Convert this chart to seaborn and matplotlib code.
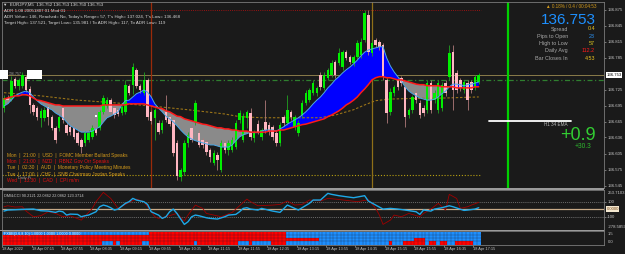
import numpy as np
import pandas as pd
import matplotlib
matplotlib.use("Agg")
import matplotlib.pyplot as plt
from matplotlib.patches import Rectangle
from matplotlib.colors import ListedColormap
import matplotlib.transforms as mtrans
import seaborn as sns

sns.set_style("dark")
plt.rcParams['font.family'] = ['Liberation Sans', 'DejaVu Sans']

# ---------------- DATA (prices as points: price = 136.500 + pts/1000) ----------------
BASE = 136.5
open_pts = [191,210,208,246,233,233,250,227,197,191,
            173,173,193,175,154,154,191,160,156,154,
            145,131,126,131,137,152,154,184,195,206,
            191,188,182,184,233,235,263,233,220,244,
            184,173,163,150,184,175,169,126,62,71,
            126,154,165,145,131,128,113,88,103,75,
            126,113,113,118,169,131,173,182,135,161,
            137,165,160,156,145,126,175,163,184,156,
            145,178,201,206,220,220,253,229,248,253,
            278,276,268,296,287,276,287,291,319,366,
            295,319,315,310,244,184,220,244,248,231,
            178,188,220,201,191,188,238,206,188,191,
            238,250,296,257,244,225,238,240,231,240]
high_pts = [216,216,251,250,248,259,253,233,201,195,
            191,193,201,178,158,178,195,165,160,158,
            148,135,148,150,160,158,188,216,212,210,
            195,191,197,244,236,276,266,236,259,248,
            188,191,169,169,216,178,173,131,79,131,
            146,160,206,150,135,131,116,113,109,131,
            131,131,137,169,188,182,188,191,150,169,
            154,206,165,160,150,165,178,216,188,178,
            169,206,225,229,244,233,259,259,266,281,
            281,304,300,300,291,291,319,323,375,375,
            319,323,319,313,248,229,235,248,251,235,
            191,216,225,206,197,244,244,225,244,240,
            244,310,310,263,248,244,244,244,253,257]
low_pts = [184,201,205,229,225,229,221,182,178,169,
           156,167,160,150,126,148,163,141,141,133,
           122,107,120,128,133,141,150,180,191,180,
           173,176,178,180,216,218,229,220,216,169,
           161,131,143,145,165,158,101,56,55,66,
           118,128,160,118,116,103,90,85,75,71,
           107,103,109,115,163,128,154,131,128,143,
           131,145,141,131,120,120,158,160,169,150,
           139,173,197,203,216,214,225,225,244,250,
           248,272,263,281,274,270,283,285,315,291,
           289,306,300,244,163,178,214,225,233,156,
           173,182,201,173,176,182,182,201,182,186,
           214,244,188,220,223,220,188,220,225,236]
close_pts = [210,206,242,233,244,253,225,197,184,175,
             186,188,175,154,131,175,169,145,146,137,
             126,118,145,145,154,145,184,210,206,184,
             178,180,193,235,220,268,233,225,244,175,
             167,188,146,163,169,161,107,64,75,126,
             141,131,201,122,122,109,100,107,94,126,
             113,126,131,163,182,176,184,137,145,146,
             150,150,146,137,126,160,163,188,175,175,
             163,201,220,225,238,229,231,253,263,276,
             253,295,296,285,278,287,313,315,370,296,
             313,310,306,250,182,221,231,231,238,175,
             188,212,206,178,182,238,188,220,238,235,
             220,295,225,225,229,240,206,225,250,253]
slow_ma_pts = [208,210,212,214,214,216,216,214,210,
               206,205,203,201,199,197,197,195,195,195,195,195,
               195,195,195,195,195,195,197,197,197,197,197,197,197,199,199,199,199,199,197,
               195,193,191,190,186,184,180,176,175,171,169,
               167,165,163,161,160,158,156,154,154,152,152,150,150,148,
               148,148,146,146,146,146,146,148,148,148,150,150,152,154,
               156,158,160,161,163,165,167,169,171,175,
               178,182,186,191,197,201,206,212,220,227,235,
               244,248,250,250,248,248,246,244,244,
               242,240,238,236,235,235,233,233,233,233,231,231,231,231,229,229,229,229,229,231,231]
fast_ma_pts = [195,199,206,214,218,221,223,220,212,
               205,199,195,191,188,182,178,173,165,158,154,150,
               146,146,146,148,152,156,165,173,176,180,184,197,205,206,212,218,221,225,221,
               212,199,191,184,176,171,165,158,150,143,137,
               133,130,128,126,124,122,122,120,118,118,118,122,130,137,
               141,143,146,145,145,148,150,150,150,148,152,156,161,165,
               169,173,178,184,191,199,206,212,220,229,
               236,244,250,257,263,268,274,281,289,296,300,
               302,304,306,306,285,270,259,250,242,
               231,223,218,214,210,208,206,206,208,212,218,223,231,236,236,235,233,235,236,238,240]
h1_ema_idx = [0,10,20,30,40,50,60,64,70,80,86,90,95,98,101,105,110,120,129]
h1_ema_pts = [220,214,206,201,195,188,180,175,173,173,173,178,188,197,205,208,209,210,212]
signal_idx = [25]
signal_pts = [176]

cci_blue_idx = [0,1,3,5,8,10,12,14,15,16,17,18,20,21,22,23,25,26,27,28,29,30,31,33,34,35,36,38,39,40,
                42,43,44,45,46,47,49,50,51,52,53,55,56,58,60,61,63,64,65,66,67,69,70,73,75,77,79,80,81,83,
                84,86,88,89,91,93,95,97,98,99,101,103,105,107,109,112,113,114,116,117,119,121,122,125,126,128,129]
cci_blue = [-27,-13,-9,-4,0,-22,-27,-44,-27,-36,-80,-67,-71,-102,-89,-80,-36,31,53,40,18,-13,0,76,98,142,120,98,62,-36,
            -80,-124,-102,-36,0,-58,-204,-169,-102,-80,-89,-116,-124,-133,-102,-80,-71,-36,9,18,0,-13,9,-27,-44,53,9,-13,18,76,
            120,120,209,196,178,164,151,169,178,107,53,0,9,0,-13,-36,-71,-13,-27,0,18,44,31,-18,-13,0,18]
cci_red_idx = [0,1,3,5,6,8,10,12,14,16,18,21,24,25,27,29,31,34,36,38,40,41,42,44,47,49,50,52,54,55,
               59,62,64,66,67,69,73,75,77,79,81,83,86,88,90,93,96,99,101,102,103,105,106,108,110,113,114,116,118,120,
               121,123,124,126,127,129]
cci_red = [31,44,27,31,-27,-102,-89,-36,-58,-102,-89,-147,9,98,222,142,9,89,133,98,-36,-102,-124,-102,-58,-160,-80,53,9,-58,
           -102,-44,44,133,98,44,53,62,107,53,62,120,107,142,133,116,98,124,9,-80,-204,-147,-80,-102,-58,-102,-58,0,76,-13,
           196,142,9,31,53,89]

trend_rows = [  # run-lengths per row, R = red, B = blue
    [('B', 40), ('R', 37), ('B', 53)],
    [('R', 77), ('B', 53)],
    [('R', 86), ('B', 26), ('R', 3), ('B', 15)],
    [('R', 27), ('B', 3), ('R', 1), ('B', 1), ('R', 6), ('B', 2), ('R', 12), ('B', 1), ('R', 11), ('B', 3),
     ('R', 1), ('B', 5), ('R', 4), ('B', 28), ('R', 1), ('B', 3), ('R', 6), ('B', 1), ('R', 2), ('B', 1),
     ('R', 2), ('B', 2), ('R', 5), ('B', 2)],
]

price_ticks = [136.875, 136.845, 136.815, 136.785, 136.725, 136.695, 136.665, 136.636, 136.605, 136.575, 136.545]
x_labels = ["18 Apr 2022", "18 Apr 07:15", "18 Apr 07:55", "18 Apr 08:35", "18 Apr 09:15", "18 Apr 09:55",
            "18 Apr 10:35", "18 Apr 11:15", "18 Apr 11:55", "18 Apr 12:35", "18 Apr 13:15", "18 Apr 13:55",
            "18 Apr 14:35", "18 Apr 15:15", "18 Apr 15:55", "18 Apr 16:35", "18 Apr 17:15"]
current_price = 136.753
red_level = 136.875
gold_level = 136.566
green_level = 136.744
h1_ema_level = 136.667
day_sep_1, day_sep_2, future_mark = 40, 100, 137

news = [("Mon  |  21:00  |  USD  |  FOMC Member Bullard Speaks", '#d49a1a'),
        ("Mon  |  21:00  |  NZD  |  RBNZ Gov Orr Speaks", '#e01010'),
        ("Tue  |  02:30  |  AUD  |  Monetary Policy Meeting Minutes", '#d49a1a'),
        ("Tue  |  17:00  |  CHF  |  SNB Chairman Jordan Speaks", '#d49a1a'),
        ("Wed  |  13:30  |  CAD  |  CPI m/m", '#e01010')]
info_labels = ["Spread", "Pips to Open", "High to Low", "Daily Avg", "Bar Closes In"]
info_values = ["0.4", "23", "57", "112.2", "4:53"]
info_colors = ['#e8c020', '#2a8ff0', '#d8c020', '#ff1a1a', '#e8c020']

# ---------------- DERIVED ARRAYS ----------------
def px(v):
    return BASE + np.asarray(v, dtype=float) / 1000.0

O, Hh, L, C = px(open_pts), px(high_pts), px(low_pts), px(close_pts)
slow, fast = px(slow_ma_pts), px(fast_ma_pts)
n = len(C)
assert len(O) == len(Hh) == len(L) == n == len(slow) == len(fast) == 130
x = np.arange(n)

# ---------------- FIGURE ----------------
W, H = 625, 254
BG = '#1a1a1a'
fig = plt.figure(figsize=(W / 100, H / 100), dpi=100, facecolor=BG)

def axpos(x0, y0, x1, y1):
    return [x0 / W, 1 - y1 / H, (x1 - x0) / W, (y1 - y0) / H]

def ftxt(xp, yp, s, **kw):
    kw.setdefault('va', 'center')
    return fig.text(xp / W, 1 - yp / H, s, **kw)

XLIM = ((2 - 4) / 3.68, (604 - 4) / 3.68)

ax = fig.add_axes(axpos(2, 2, 604, 188))
axc = fig.add_axes(axpos(2, 190, 604, 230))
axh = fig.add_axes(axpos(2, 230.5, 604, 244.5))
for a in (ax, axc, axh):
    a.set_facecolor(BG)
    for sp in a.spines.values():
        sp.set_color('#7a7a7a')
        sp.set_linewidth(0.6)
    a.grid(False)

# ---- main price panel ----
ax.set_xlim(*XLIM)
ax.set_ylim(BASE + 41.25 / 1000, BASE + 390 / 1000)

up = C >= O
ax.fill_between(x, fast, slow, where=fast >= slow, interpolate=True, color='#0000ff', lw=0, zorder=2)
ax.fill_between(x, fast, slow, where=fast <= slow, interpolate=True, color='#8a8a8a', lw=0, zorder=2)
ax.plot(h1_ema_idx, px(h1_ema_pts), color='#9a7418', lw=0.8, ls=(0, (2.2, 1.6)), zorder=2.5)

ax.axhline(current_price, color='#8a7c4a', lw=0.7, zorder=1.5)
ax.axhline(green_level, color='#2f7f2f', lw=0.9, ls=(0, (4, 2, 1, 2)), zorder=1.5)
ax.hlines(red_level, XLIM[0], n - 0.5, color='#c01010', lw=0.6, linestyles=(0, (1, 1.6)), zorder=1.5)
ax.hlines(gold_level, XLIM[0], n - 0.5, color='#b8a012', lw=0.8, linestyles=(0, (1, 1.6)), zorder=1.5)
ax.axvline(day_sep_1, color='#9a2a0a', lw=0.9, zorder=1.6)
ax.axvline(day_sep_2, color='#8f7018', lw=0.9, zorder=1.6)
ax.axvline(future_mark, color='#00d000', lw=1.6, zorder=1.6)
ax.axhline(h1_ema_level, xmin=(489 - 2) / 602, xmax=(571 - 2) / 602, color='white', lw=1.3, zorder=3)

ax.vlines(x[up], L[up], Hh[up], color='#22a322', lw=0.6, zorder=3)
ax.vlines(x[~up], L[~up], Hh[~up], color='#b07a7a', lw=0.6, zorder=3)
body = np.maximum(np.abs(C - O), 0.0005)
ax.bar(x, body, bottom=np.minimum(O, C), width=0.68,
       color=np.where(up, '#00f000', '#ffb6c1'), lw=0, zorder=4)

sns.lineplot(x=x, y=fast, ax=ax, color='#4aa8e8', lw=0.7, zorder=5)
sns.lineplot(x=x, y=slow, ax=ax, color='#ff1a1a', lw=1.1, zorder=5)
ax.scatter(signal_idx, px(signal_pts), marker='s', s=4, color='white', zorder=6, lw=0)

ax.set_xticks([])
ax.yaxis.tick_right()
ax.set_yticks(price_ticks)
ax.set_yticklabels([f"{p:.3f}" for p in price_ticks])
ax.tick_params(axis='y', right=True, left=False, labelsize=3.1, labelcolor='#c8c8c8',
               color='#9a9a9a', length=1.5, width=0.5, pad=0.8)
ax.set_xlabel(''); ax.set_ylabel('')
blend = mtrans.blended_transform_factory(ax.transAxes, ax.transData)
ax.text(1.004, current_price, f"{current_price:.3f}", transform=blend, ha='left', va='center',
        size=3.1, color='black', bbox=dict(fc='white', ec='none', pad=0.5), zorder=10)

# ---- CCI panel ----
axc.set_xlim(*XLIM)
axc.set_ylim(-278.5859, 253.7103)
axc.axhline(100, color='#8a8a8a', lw=0.5, ls=(0, (1.5, 1.5)))
axc.axhline(-100, color='#8a8a8a', lw=0.5, ls=(0, (1.5, 1.5)))
axc.axhline(0, color='#c8aa88', lw=0.9)
sns.lineplot(x=cci_red_idx, y=cci_red, ax=axc, color='#a00000', lw=0.6)
sns.lineplot(x=cci_blue_idx, y=cci_blue, ax=axc, color='#1ea8e8', lw=1.0)
axc.set_xticks([])
axc.yaxis.tick_right()
axc.set_yticks([100, -100])
axc.set_yticklabels(['100', '-100'])
axc.tick_params(axis='y', right=True, left=False, labelsize=3.1, labelcolor='#c8c8c8',
                color='#9a9a9a', length=1.5, width=0.5, pad=0.8)
axc.set_xlabel(''); axc.set_ylabel('')
bc = mtrans.blended_transform_factory(axc.transAxes, axc.transData)
axc.text(1.006, 245, "253.7103", transform=bc, ha='left', va='top', size=3.1, color='#c8c8c8')
axc.text(1.006, -270, "-278.5859", transform=bc, ha='left', va='bottom', size=3.1, color='#c8c8c8')
axc.text(1.004, 0, "0.0000", transform=bc, ha='left', va='center', size=3.0, color='#704010',
         bbox=dict(fc='#f4e8d0', ec='none', pad=0.5))
axc.text(0.004, 0.86, "DMI&CCI 90.2121 22.0862 22.0862 123.3714", transform=axc.transAxes,
         ha='left', va='center', size=2.8, color='#c8c8c8')

# ---- trend heat map ----
rows = []
for runs in trend_rows:
    r = []
    for col, cnt in runs:
        r += [1 if col == 'R' else 0] * cnt
    rows.append(r)
mat = pd.DataFrame(np.array(rows))
sns.heatmap(mat, ax=axh, cmap=ListedColormap(['#1e8fff', '#ff0000']), vmin=0, vmax=1, cbar=False,
            linewidths=0, xticklabels=False, yticklabels=False, rasterized=False)
nr, nc = mat.shape
axh.vlines(np.arange(1, nc), 0, nr, color='#1c2030', lw=0.22, alpha=0.9)
axh.hlines(np.arange(1, nr), 0, nc, color='#1c2030', lw=0.22, alpha=0.9)
axh.set_xlim(XLIM[0] + 0.5, XLIM[1] + 0.5)
axh.set_ylim(4, -0.35)
for sp in axh.spines.values():
    sp.set_visible(True)
    sp.set_color('#7a7a7a')
    sp.set_linewidth(0.6)
axh.set_xticks([8 * k for k in range(len(x_labels))])
axh.set_xticklabels(x_labels, ha='left', rotation=0)
axh.tick_params(axis='x', bottom=True, labelsize=2.75, labelcolor='#c8c8c8', color='#9a9a9a',
                length=1.5, width=0.5, pad=0.6)
axh.set_yticks([])
axh.set_xlabel(''); axh.set_ylabel('')
axh.text(1.006, 0.75, "1.5", transform=axh.transAxes, ha='left', va='center', size=3.0, color='#c8c8c8')
axh.text(1.006, 0.2, "0.0", transform=axh.transAxes, ha='left', va='center', size=3.0, color='#c8c8c8')
axh.text(0.003, 0.72, "FXBB(3,6,8,10) 1.0000 1.0000 1.0000 0.0000", transform=axh.transAxes,
         ha='left', va='center', size=2.7, color='#f0f0f0')

# ---- panel separators ----
for y0, hgt in ((188.2, 2.2), (229.6, 1.4)):
    fig.patches.append(Rectangle((0, 1 - (y0 + hgt) / H), 604 / W, hgt / H, transform=fig.transFigure,
                                 color='#9a9a9a', lw=0))

# ---- left decorations ----
for bx0, bx1 in ((0, 8), (27, 42)):
    fig.patches.append(Rectangle((bx0 / W, 1 - 79 / H), (bx1 - bx0) / W, 9 / H, transform=fig.transFigure,
                                 color='white', lw=0, zorder=20))
ftxt(9, 74.5, "136.757", size=2.6, color='#9a9a9a', zorder=21)

# ---- header texts ----
hdr = dict(size=3.2, color='#d8d8d8', ha='left')
ftxt(3, 5, "▼  EURJPY,M5  136.752 136.753 136.750 136.753", **hdr)
ftxt(4, 11, "ADR 1.08 20051807 01 Mod 01", **hdr)
ftxt(4, 17, "ADR Value= 146, Reached= No, Today's Range= 57, T's High= 137.024, T's Low= 136.468", **hdr)
ftxt(4, 23, "Target High= 137.521, Target Low= 135.981 / To ADR High= 117, To ADR Low= 119", **hdr)

# ---- news ----
for i, (s, col) in enumerate(news):
    ftxt(7, 155 + i * 6.4, s, size=3.5, color=col, ha='left')
ftxt(18, 177.5, "Daily Pi", size=2.8, color='#9a9a9a', ha='left')

# ---- info panel ----
ftxt(597, 7, "▲ 0.18% / 0.4 / 00:04:53", size=3.3, color='#d49a1a', ha='right')
ftxt(595.5, 19.5, f"{current_price:.3f}", size=11, color='#1e90ff', ha='right')
for i, (lab, val, col) in enumerate(zip(info_labels, info_values, info_colors)):
    yy = 29 + i * 7.3
    ftxt(568, yy, lab, size=3.9, color='#a8a8a8', ha='right')
    ftxt(595, yy, val, size=3.9, color=col, ha='right')

ftxt(568, 124, "H1 34 EMA", size=3.3, color='#b8b8b8', ha='right')
ftxt(596, 135.5, "+0.9", size=13, color='#32cd32', ha='right')
ftxt(591, 147, "+30.3", size=4.8, color='#2eb82e', ha='right')

fig.savefig("out.png", dpi=100, facecolor=BG)
